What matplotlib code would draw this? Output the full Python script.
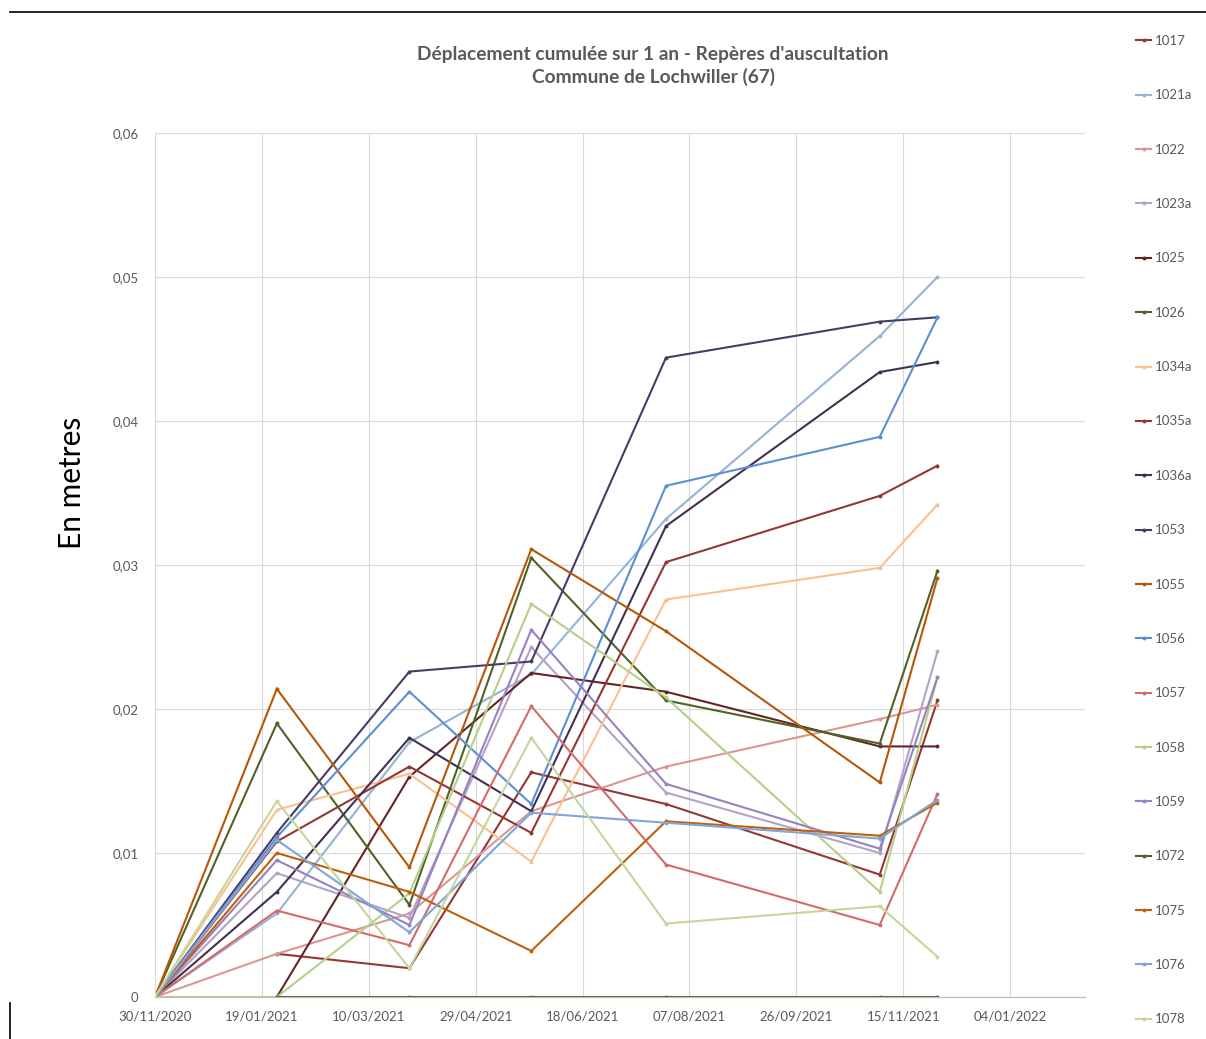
import matplotlib
matplotlib.use("Agg")
import matplotlib.pyplot as plt
import matplotlib.dates as mdates
from matplotlib.lines import Line2D
from datetime import datetime
import numpy as np

plt.rcParams['font.family'] = ['Lato', 'DejaVu Sans']

# ---------------- data ----------------
dates = ["30/11/2020", "26/01/2021", "29/03/2021", "25/05/2021",
         "27/07/2021", "04/11/2021", "01/12/2021"]
nan = np.nan

s1017 = [nan, 0.0030, 0.0020, 0.0156, 0.0134, 0.0085, 0.0206]
s1021a = [0, 0.0058, 0.0177, 0.0224, 0.0332, 0.0459, 0.0500]
s1022 = [0, 0.0030, 0.0058, 0.0129, 0.0160, 0.0193, 0.0203]
s1023a = [0, 0.0086, 0.0055, 0.0243, 0.0142, 0.0100, 0.0240]
s1025 = [nan, 0.0, 0.0153, 0.0225, 0.0212, 0.0174, 0.0174]
s1026 = [0, 0.0190, 0.0064, 0.0305, 0.0206, 0.0176, 0.0296]
s1034a = [0, 0.0130, 0.0155, 0.0094, 0.0276, 0.0298, 0.0342]
s1035a = [0, 0.0108, 0.0160, 0.0114, 0.0302, 0.0348, 0.0369]
s1036a = [0, 0.0073, 0.0180, 0.0129, 0.0327, 0.0434, 0.0441]
s1053 = [0, 0.0114, 0.0226, 0.0233, 0.0444, 0.0469, 0.0472]
s1055 = [0, 0.0214, 0.0090, 0.0311, 0.0254, 0.0149, 0.0291]
s1056 = [0, 0.0111, 0.0212, 0.0134, 0.0355, 0.0389, 0.0472]
s1057 = [0, 0.0060, 0.0036, 0.0202, 0.0092, 0.0050, 0.0141]
s1058 = [0, 0.0, 0.0072, 0.0273, 0.0208, 0.0073, 0.0222]
s1059 = [0, 0.0095, 0.0050, 0.0255, 0.0148, 0.0103, 0.0222]
s1072 = [nan, 0.0, 0.0, 0.0, 0.0, 0.0, 0.0]
s1075 = [0, 0.0100, 0.0073, 0.0032, 0.0122, 0.0112, 0.0135]
s1076 = [0, 0.0109, 0.0045, 0.0128, 0.0121, 0.0110, 0.0137]
s1078 = [0, 0.0136, 0.0020, 0.0180, 0.0051, 0.0063, 0.0028]

labels = ["1017", "1021a", "1022", "1023a", "1025", "1026", "1034a", "1035a",
          "1036a", "1053", "1055", "1056", "1057", "1058", "1059", "1072",
          "1075", "1076", "1078"]
series = [s1017, s1021a, s1022, s1023a, s1025, s1026, s1034a, s1035a,
          s1036a, s1053, s1055, s1056, s1057, s1058, s1059, s1072,
          s1075, s1076, s1078]
colors = ["#953735", "#95B3D7", "#DA9694", "#B3A2C7", "#632523", "#4F6228",
          "#FAC090", "#943634", "#403152", "#4B3A67", "#B65708", "#5B8FD4",
          "#D46A6A", "#B5D08A", "#9781C0", "#4F6228", "#BF600C", "#7EA6DA",
          "#C3D69B"]

xtick_labels = ["30/11/2020", "19/01/2021", "10/03/2021", "29/04/2021",
                "18/06/2021", "07/08/2021", "26/09/2021", "15/11/2021",
                "04/01/2022"]
ytick_values = [0, 0.01, 0.02, 0.03, 0.04, 0.05, 0.06]
ytick_labels = ["0", "0,01", "0,02", "0,03", "0,04", "0,05", "0,06"]

title = "Déplacement cumulée sur 1 an - Repères d'auscultation\nCommune de Lochwiller (67)"
ylabel = "En metres"

# ---------------- figure ----------------
W, H = 1206, 1039
fig = plt.figure(figsize=(W / 100, H / 100), dpi=100)
fig.patch.set_facecolor("white")

x0, x1, y0, y1 = 155, 1085, 997, 133
ax = fig.add_axes([x0 / W, 1 - y0 / H, (x1 - x0) / W, (y0 - y1) / H])

xd = mdates.date2num([datetime.strptime(d, "%d/%m/%Y") for d in dates])
xt = mdates.date2num([datetime.strptime(d, "%d/%m/%Y") for d in xtick_labels])

for lab, s, c in zip(labels, series, colors):
    ax.plot(xd, s, color=c, lw=1.5, marker="o", markersize=2.8,
            markeredgewidth=0, label=lab, solid_joinstyle="miter")

ax.set_xlim(xt[0], xt[0] + 435)
ax.set_ylim(0, 0.06)
ax.set_xticks(xt)
ax.set_xticklabels(xtick_labels)
ax.set_yticks(ytick_values)
ax.set_yticklabels(ytick_labels)

ax.grid(True, color="#D9D9D9", lw=0.8)
ax.set_axisbelow(True)
for sp in ["top", "right"]:
    ax.spines[sp].set_visible(False)
ax.spines["left"].set_color("#D9D9D9")
ax.spines["left"].set_linewidth(0.8)
ax.spines["bottom"].set_color("#BFBFBF")
ax.spines["bottom"].set_linewidth(0.9)
ax.tick_params(axis="both", length=0, labelsize=9.5, colors="#595959")
ax.tick_params(axis="x", pad=9.5)
ax.tick_params(axis="y", pad=12)

fig.text(653 / W, 1 - 66 / H, title, ha="center", va="center",
         fontsize=13.8, fontweight="bold", color="#595959", linespacing=1.35)

fig.text(72 / W, 1 - 483 / H, ylabel, rotation=90, ha="center", va="center",
         fontsize=21.5, color="#000000")

leg = fig.legend(loc="upper left", bbox_to_anchor=(1136 / W, 1 - 35 / H),
                 frameon=False, fontsize=9.5, handlelength=1.15,
                 handletextpad=0.25, labelspacing=3.21, borderaxespad=0,
                 borderpad=0, labelcolor="#595959")

# chart-area border fragments
fig.add_artist(Line2D([10 / W, 1], [1 - 12 / H, 1 - 12 / H], color="black", lw=1.2))
fig.add_artist(Line2D([10 / W, 10 / W], [0, 1 - 1003 / H], color="black", lw=1.2))

fig.savefig("out.png", dpi=100, facecolor="white")
